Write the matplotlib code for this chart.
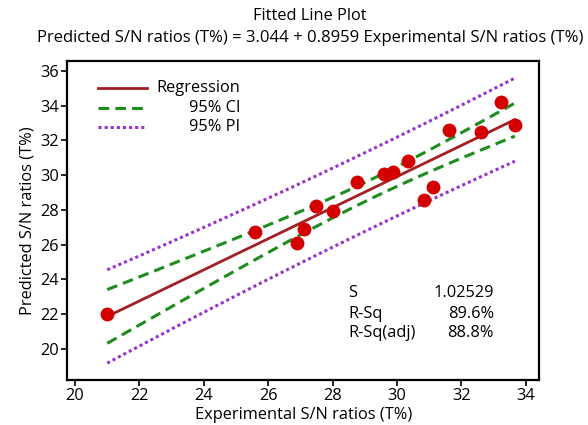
import numpy as np
import matplotlib
matplotlib.use("Agg")
import matplotlib.pyplot as plt

plt.rcParams['font.family'] = ['Open Sans', 'DejaVu Sans']

# values
experimental = [21.0, 25.59, 26.88, 27.12, 27.48, 28.0, 28.75, 29.61,
                29.89, 30.33, 30.85, 31.13, 31.62, 32.61, 33.22, 33.66]
predicted = [22.0, 26.74, 26.07, 26.88, 28.23, 27.94, 29.58, 30.06,
             30.16, 30.83, 28.55, 29.29, 32.6, 32.47, 34.24, 32.91]

intercept = 3.044
slope = 0.8959
s_value = 1.02529
r_sq = "89.6%"
r_sq_adj = "88.8%"
t_crit = 2.145  # t(0.975, n-2) for n = 16

x = np.array(experimental)
y = np.array(predicted)
n = len(x)
xbar = x.mean()
sxx = ((x - xbar) ** 2).sum()

xs = np.linspace(x.min(), x.max(), 100)
fit = intercept + slope * xs
ci = t_crit * s_value * np.sqrt(1 / n + (xs - xbar) ** 2 / sxx)
pi = t_crit * s_value * np.sqrt(1 + 1 / n + (xs - xbar) ** 2 / sxx)

reg_col = '#a51e22'
ci_col = '#1e8c1e'
pi_col = '#9b30d0'
pt_col = '#d40000'
fs = 11.8

fig = plt.figure(figsize=(5.88, 4.25), dpi=100)
ax = fig.add_axes([0.1145, 0.106, 0.8027, 0.7505])

ax.plot(xs, fit, color=reg_col, lw=2)
ax.plot(xs, fit + ci, color=ci_col, lw=2.2, dashes=(3.5, 2))
ax.plot(xs, fit - ci, color=ci_col, lw=2.2, dashes=(3.5, 2))
ax.plot(xs, fit + pi, color=pi_col, lw=2.2, dashes=(1, 1))
ax.plot(xs, fit - pi, color=pi_col, lw=2.2, dashes=(1, 1))
ax.scatter(x, y, s=100, color=pt_col, zorder=5, linewidths=0)

ax.set_xlim(19.76, 34.42)
ax.set_ylim(18.2, 36.58)
ax.set_xticks(range(20, 35, 2))
ax.set_yticks(range(20, 37, 2))
ax.tick_params(direction='out', length=4, width=1.2, labelsize=fs, pad=2)
for sp in ax.spines.values():
    sp.set_linewidth(1.6)

ax.set_xlabel("Experimental S/N ratios (T%)", fontsize=fs, labelpad=2)
ax.set_ylabel("Predicted S/N ratios (T%)", fontsize=fs, labelpad=3)

fig.text(0.527, 0.962, "Fitted Line Plot", ha='center', va='center', fontsize=fs)
fig.text(0.527, 0.91,
         "Predicted S/N ratios (T%) = " + str(intercept) + " + " + str(slope)
         + " Experimental S/N ratios (T%)",
         ha='center', va='center', fontsize=12)

# legend drawn by hand so labels can be right aligned like Minitab
legend_items = [("Regression", reg_col, None),
                ("95% CI", ci_col, (3.5, 2)),
                ("95% PI", pi_col, (1, 1))]
ly = [0.915, 0.853, 0.793]
for (lab, col, dsh), yy in zip(legend_items, ly):
    line, = ax.plot([0.065, 0.169], [yy, yy], color=col, lw=2 if dsh is None else 2.2,
                    transform=ax.transAxes)
    if dsh is not None:
        line.set_dashes(dsh)
    ax.text(0.366, yy, lab, transform=ax.transAxes, ha='right', va='center', fontsize=fs)

stats = [("S", str(s_value)), ("R-Sq", r_sq), ("R-Sq(adj)", r_sq_adj)]
sy = [0.273, 0.207, 0.147]
for (lab, val), yy in zip(stats, sy):
    ax.text(0.595, yy, lab, transform=ax.transAxes, ha='left', va='center', fontsize=fs)
    ax.text(0.904, yy, val, transform=ax.transAxes, ha='right', va='center', fontsize=fs)

fig.savefig("out.png", dpi=100)
